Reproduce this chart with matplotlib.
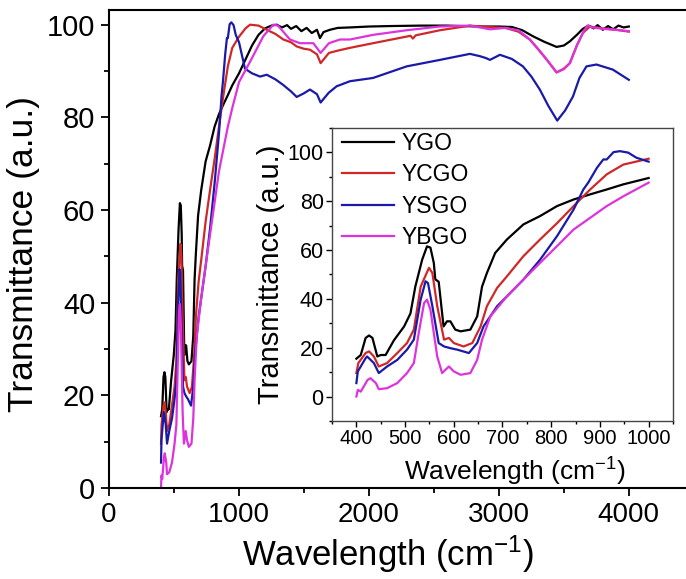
import numpy as np
import matplotlib
matplotlib.use('Agg')
from matplotlib import pyplot as plt
from matplotlib.ticker import MultipleLocator

plt.rcParams['font.family'] = ['Liberation Sans', 'DejaVu Sans']
plt.rcParams['mathtext.default'] = 'regular'

# FTIR transmittance spectra (wavenumber in cm-1, transmittance in a.u.)
ygo_x = [400, 409, 419, 426, 433, 443, 450, 460, 477, 498, 511, 521, 535, 545, 552, 559, 562, 569,
         579, 586, 593, 603, 614, 634, 648, 658, 668, 685, 709, 743, 777, 812, 846, 880, 914, 948,
         1000, 1050, 1100, 1150, 1200, 1250, 1290, 1330, 1370, 1400, 1440, 1480, 1520, 1560, 1600,
         1623, 1650, 1700, 1760, 1850, 2000, 2160, 2400, 2600, 2850, 3000, 3100, 3180, 3262, 3350,
         3444, 3500, 3546, 3600, 3646, 3690, 3730, 3760, 3800, 3840, 3880, 3920, 3960, 4000]
ygo_y = [15.5, 17, 24, 25, 24, 16.4, 17, 17, 23, 28.7, 34, 45, 56, 61.5, 61, 54.7, 48, 47,
         28.7, 30.8, 30.8, 27.4, 26.7, 27.4, 32.8, 45, 50.6, 58.8, 64.3, 70.5, 73.9, 78, 80.7, 82.8,
         84.8, 86.9, 89.5, 92.5, 95.5, 97.8, 99.2, 99.8, 100, 99.4, 99.9, 99.1, 99.7, 98.6, 99.3,
         98.2, 98.9, 97.1, 98.4, 98.9, 99.3, 99.4, 99.6, 99.7, 99.8, 99.8, 99.6, 99.6, 99.5, 98.8,
         97.5, 96.3, 95.2, 95.5, 96.4, 97.8, 99.1, 99.8, 99.2, 99.9, 98.9, 99.7, 99.0, 99.8, 99.4,
         99.6]

ycgo_x = [400, 404, 419, 426, 436, 446, 463, 484, 504, 518, 532, 549, 556, 566, 580, 590, 600,
          620, 638, 655, 668, 689, 709, 743, 777, 812, 846, 880, 914, 948, 1000, 1050, 1085, 1150,
          1213, 1280, 1341, 1400, 1444, 1500, 1546, 1600, 1628, 1660, 1692, 1760, 1854, 2031, 2320,
          2338, 2360, 2546, 2780, 2900, 3050, 3150, 3238, 3300, 3367, 3444, 3500, 3546, 3600,
          3646, 3700, 3800, 3900, 4000]
ycgo_y = [9.6, 13.7, 17.8, 18.5, 16.4, 12.3, 13.7, 17.8, 21.9, 27.4, 45, 52.7, 50.6, 37, 23.3,
          24, 21.9, 20.5, 21.9, 28.7, 37, 44.5, 49.2, 57.5, 64.3, 71, 78, 84.8, 91, 95, 97.4, 99.2,
          100, 99.8, 98.9, 98, 96.8, 96.2, 95.3, 94.8, 94.6, 93.6, 91.7, 92.8, 93.9, 94.4, 95, 96,
          97.6, 97, 97.7, 98.8, 99.8, 99.5, 99.3, 98.5, 96.8, 94.8, 92.5, 89.7, 90.5, 91.7, 95.5,
          98.2, 99.6, 99.2, 98.9, 98.5]

ysgo_x = [400, 403, 419, 422, 436, 446, 463, 484, 504, 518, 532, 542, 547, 556, 569, 580, 593,
          607, 631, 648, 661, 689, 709, 743, 777, 812, 846, 866, 876, 894, 907, 914, 928, 941, 958,
          975, 1000, 1046, 1100, 1162, 1213, 1280, 1340, 1400, 1444, 1500, 1546, 1600, 1628, 1690,
          1751, 1854, 2031, 2290, 2546, 2777, 2854, 2900, 2931, 3008, 3100, 3185, 3250, 3315, 3380,
          3449, 3510, 3570, 3620, 3674, 3751, 3877, 4000]
ysgo_y = [5.5, 10.3, 15.7, 16.4, 13.7, 9.6, 12.3, 15, 19.2, 23.3, 39.7, 47.2, 46.5, 37, 21.9,
          20.5, 19.8, 19.2, 17.8, 21.9, 28.7, 37, 41, 47.9, 56, 65.7, 76.6, 84.8, 87.6, 93.7, 97.1,
          97.1, 100.1, 100.5, 99.9, 97.8, 96.2, 90.5, 89.5, 88.8, 89.2, 88.2, 87, 85.6, 84.4, 85.2,
          86, 85, 83.2, 85.3, 86.7, 87.8, 88.5, 91, 92.4, 93.7, 93.2, 92.8, 92.4, 93.5, 92.6, 91,
          88.8, 86, 82.5, 79.3, 81.5, 84.5, 88.5, 91, 91.4, 90.3, 88.1]

ybgo_x = [400, 403, 409, 423, 429, 440, 446, 463, 484, 504, 518, 528, 539, 545, 552, 566, 576,
          590, 600, 614, 634, 648, 658, 675, 709, 743, 777, 812, 846, 880, 914, 948, 1000, 1085,
          1187, 1264, 1300, 1340, 1392, 1469, 1572, 1628, 1692, 1777, 1854, 2031, 2290, 2546, 2777,
          2931, 3050, 3150, 3238, 3300, 3367, 3444, 3500, 3546, 3600, 3646, 3680, 3720, 3800, 3900,
          4000]
ybgo_y = [0, 2.7, 2, 6.8, 7.5, 5.5, 3, 3.4, 5.5, 9.6, 13.7, 26, 38.3, 39.7, 35.6, 16.4, 9.6,
          12.3, 10.3, 8.9, 9.6, 15, 23.3, 32.8, 41, 47.9, 54.7, 61.6, 68.4, 73.2, 78, 82, 87.6, 92,
          97.5, 100, 99.8, 98.5, 96.8, 96, 96, 93.9, 96, 96.8, 96.8, 97.8, 98.8, 99.6, 99.8, 99,
          99.3, 98.8, 96.8, 94.8, 92.5, 89.7, 90.4, 91.7, 95.5, 98.2, 99.8, 99.4, 99.1, 98.9, 98.6]

series = [('YGO', ygo_x, ygo_y, 'black'),
          ('YCGO', ycgo_x, ycgo_y, '#d02828'),
          ('YSGO', ysgo_x, ysgo_y, '#1a1aa8'),
          ('YBGO', ybgo_x, ybgo_y, '#dd33dd')]

fig = plt.figure(figsize=(6.86, 5.79), dpi=100)

# main panel
ax = fig.add_axes([0.159, 0.157, 0.841, 0.826])
for name, x, y, c in series:
    ax.plot(x, y, color=c, lw=1.6)
ax.set_xlim(0, 4440)
ax.set_ylim(0, 103.2)
ax.xaxis.set_major_locator(MultipleLocator(1000))
ax.xaxis.set_minor_locator(MultipleLocator(500))
ax.yaxis.set_major_locator(MultipleLocator(20))
ax.yaxis.set_minor_locator(MultipleLocator(10))
ax.tick_params(which='major', direction='out', length=6, width=1.3, pad=4)
ax.tick_params(which='minor', direction='out', length=3.5, width=1.3)
ax.tick_params(axis='x', labelsize=20)
ax.tick_params(axis='y', labelsize=21)
ax.tick_params(top=False, right=False)
for s in ['left', 'bottom', 'top']:
    ax.spines[s].set_linewidth(1.5)
ax.spines['right'].set_visible(False)
ax.set_xlabel('Wavelength (cm$^{-1}$)', fontsize=25)
ax.set_ylabel('Transmittance (a.u.)', fontsize=25.5)
ax.xaxis.set_label_coords(0.483, -0.095)
ax.yaxis.set_label_coords(-0.12, 0.49)

# inset: 400-1000 cm-1 region
ins = fig.add_axes([0.484, 0.273, 0.497, 0.506])
for name, x, y, c in series:
    xs = np.array(x)
    keep = xs <= 1000
    ins.plot(xs[keep], np.array(y)[keep], color=c, lw=1.6, label=name)
ins.set_xlim(350, 1050)
ins.set_ylim(-10, 110)
ins.xaxis.set_major_locator(MultipleLocator(100))
ins.xaxis.set_minor_locator(MultipleLocator(50))
ins.yaxis.set_major_locator(MultipleLocator(20))
ins.yaxis.set_minor_locator(MultipleLocator(10))
ins.tick_params(which='major', direction='out', length=4, width=1, pad=2)
ins.tick_params(which='minor', direction='out', length=2.5, width=1)
ins.tick_params(axis='x', labelsize=14.5)
ins.tick_params(axis='y', labelsize=15.5)
for s in ins.spines.values():
    s.set_linewidth(1.0)
    s.set_color('#444444')
ins.set_xlabel('Wavelength (cm$^{-1}$)', fontsize=19)
ins.set_ylabel('Transmittance (a.u.)', fontsize=21, labelpad=2)
ins.xaxis.set_label_coords(0.537, -0.12)
ins.legend(loc='upper left', bbox_to_anchor=(0.028, 0.986), frameon=False, fontsize=16.5,
           handlelength=2.3, handletextpad=0.3, labelspacing=0.36,
           borderaxespad=0, borderpad=0)

fig.savefig('out.png', dpi=100)
